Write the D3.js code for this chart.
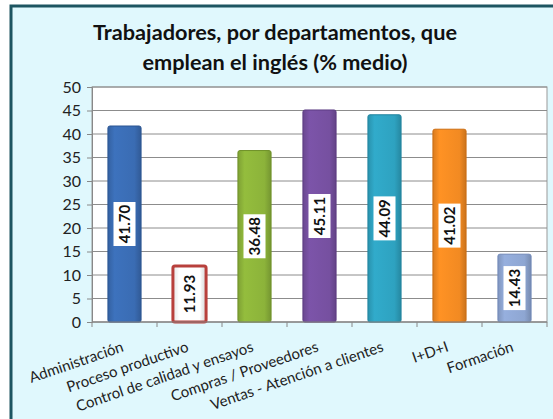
<!DOCTYPE html>
<html>
<head>
<meta charset="utf-8">
<script src="https://cdn.jsdelivr.net/npm/d3@7"></script>
<style>
  body { margin: 0; background: #fff; }
  svg { display: block; font-family: Lato, "Open Sans", sans-serif; }
</style>
</head>
<body>
<script>
// chart values
var categories = ["Administración", "Proceso productivo", "Control de calidad y ensayos",
  "Compras / Proveedores", "Ventas - Atención a clientes", "I+D+I", "Formación"];
var values = [41.70, 11.93, 36.48, 45.11, 44.09, 41.02, 14.43];
var barColors = ["#3a6cb3", "#ffffff", "#8cb33a", "#7650a0", "#2ea2c0", "#f28a22", "#8ea6d2"];
var barEdges = ["#2b5592", "#b8403c", "#6f9128", "#5c3b82", "#21849e", "#cc6d12", "#6f88b8"];
var yTicks = [0, 5, 10, 15, 20, 25, 30, 35, 40, 45, 50];
var titleLines = ["Trabajadores, por departamentos, que", "emplean el inglés (% medio)"];

var W = 553, H = 419;
var m = { left: 92, right: 6, top: 87, bottom: 97 };

var svg = d3.select("body").append("svg").attr("width", W).attr("height", H);

// frame
svg.append("rect").attr("x", 11).attr("y", 6).attr("width", W + 20).attr("height", H + 20)
  .attr("fill", "#e0f8fd").attr("stroke", "#1d5561").attr("stroke-width", 3);

svg.selectAll("text.title").data(titleLines).enter().append("text")
  .attr("class", "title")
  .attr("x", 275).attr("y", function(d, i) { return 40 + i * 30; })
  .attr("text-anchor", "middle")
  .attr("font-size", 21.7).attr("font-weight", "bold").attr("fill", "#111")
  .text(function(d) { return d; });

var x = d3.scaleBand().domain(categories).range([m.left, W - m.right]).paddingInner(0.49).paddingOuter(0.245);
var y = d3.scaleLinear().domain([0, 50]).range([H - m.bottom, m.top]);

// plot area
svg.append("rect").attr("x", m.left).attr("y", m.top)
  .attr("width", W - m.right - m.left).attr("height", H - m.bottom - m.top)
  .attr("fill", "#fff").attr("stroke", "#999");

svg.selectAll("line.grid").data(yTicks).enter().append("line")
  .attr("x1", m.left).attr("x2", W - m.right)
  .attr("y1", function(d) { return y(d); }).attr("y2", function(d) { return y(d); })
  .attr("stroke", "#8c8c8c").attr("stroke-width", 1);

// gradients
var defs = svg.append("defs");
barColors.forEach(function(c, i) {
  var g = defs.append("linearGradient").attr("id", "g" + i).attr("x1", 0).attr("x2", 1).attr("y1", 0).attr("y2", 0);
  g.append("stop").attr("offset", "0%").attr("stop-color", d3.color(c).darker(0.3));
  g.append("stop").attr("offset", "20%").attr("stop-color", d3.color(c).brighter(0.15));
  g.append("stop").attr("offset", "80%").attr("stop-color", c);
  g.append("stop").attr("offset", "100%").attr("stop-color", d3.color(c).darker(0.5));
});

var bars = svg.selectAll("g.bar").data(values).enter().append("g").attr("class", "bar");

bars.append("rect")
  .attr("x", function(d, i) { return x(categories[i]); })
  .attr("y", function(d) { return y(d); })
  .attr("width", x.bandwidth())
  .attr("height", function(d) { return y(0) - y(d); })
  .attr("rx", 2)
  .attr("fill", function(d, i) { return "url(#g" + i + ")"; })
  .attr("stroke", function(d, i) { return barEdges[i]; })
  .attr("stroke-width", function(d, i) { return i == 1 ? 3 : 1; });

// value labels, rotated
bars.append("rect")
  .attr("x", function(d, i) { return x(categories[i]) + x.bandwidth() / 2 - 11; })
  .attr("y", function(d) { return (y(d) + y(0)) / 2 - 22; })
  .attr("width", 22).attr("height", 44)
  .attr("fill", "#fff");

bars.append("text")
  .attr("transform", function(d, i) {
    return "translate(" + (x(categories[i]) + x.bandwidth() / 2 + 5) + "," + ((y(d) + y(0)) / 2) + ") rotate(-90)";
  })
  .attr("text-anchor", "middle")
  .attr("font-size", 15).attr("font-weight", "bold").attr("fill", "#111")
  .text(function(d) { return d.toFixed(2); });

// y axis
var yAxis = svg.append("g").attr("transform", "translate(" + m.left + ",0)")
  .call(d3.axisLeft(y).tickValues(yTicks).tickSize(5).tickPadding(6));
yAxis.select(".domain").attr("stroke", "#888");
yAxis.selectAll(".tick line").attr("stroke", "#888");
yAxis.selectAll("text").attr("font-size", 16).attr("fill", "#222")
  .attr("font-family", "Lato, sans-serif");

// x axis line and ticks between categories
svg.append("line").attr("x1", m.left).attr("x2", W - m.right)
  .attr("y1", y(0)).attr("y2", y(0)).attr("stroke", "#888");
var step = x.step();
svg.selectAll("line.xt").data(d3.range(categories.length + 1)).enter().append("line")
  .attr("x1", function(d) { return m.left + d * step; })
  .attr("x2", function(d) { return m.left + d * step; })
  .attr("y1", y(0)).attr("y2", y(0) + 5).attr("stroke", "#888");

svg.selectAll("text.xl").data(categories).enter().append("text")
  .attr("class", "xl")
  .attr("transform", function(d) {
    return "translate(" + (x(d) + x.bandwidth() / 2) + "," + (y(0) + 29) + ") rotate(-19)";
  })
  .attr("text-anchor", "end")
  .attr("font-size", 15).attr("fill", "#222")
  .text(function(d) { return d; });
</script>
</body>
</html>
